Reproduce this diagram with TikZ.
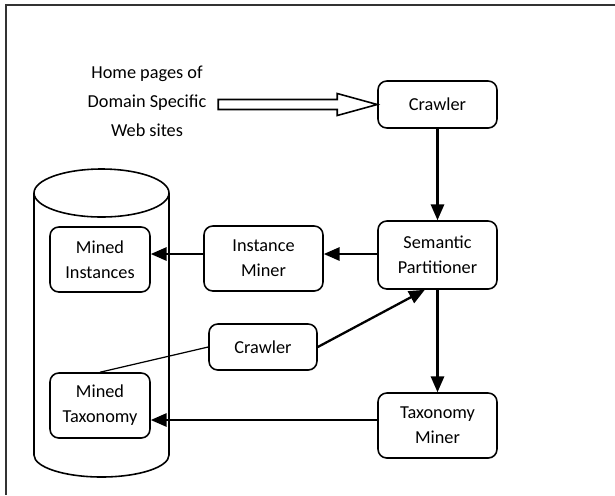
\documentclass[tikz,border=0pt]{standalone}
\usepackage{fontspec}
\setmainfont{Carlito}
\usetikzlibrary{arrows.meta}

\tikzset{
  block/.style={draw, line width=0.9pt, rounded corners=5pt, align=center, inner sep=0pt,
    minimum width=2.38cm, font=\fontsize{10.4}{14.2}\selectfont},
  flow/.style={line width=1.3pt, -{Triangle[length=9pt,width=7.5pt]}},
}

\begin{document}
\begin{tikzpicture}[x=0.02cm, y=-0.02cm]
\useasboundingbox (0,0) rectangle (615,495);
\draw[line width=1pt, black!80] (615,5) -- (6,5) -- (6,495);

% database
\draw[line width=0.9pt] (34,193) -- (34,455) arc (180:0:67.5 and 22) -- (169,193);
\draw[line width=0.9pt] (101.5,193) ellipse (67.5 and 24);

\node [block, minimum height=0.94cm] (crawler) at (437.5,104.5) {Crawler};
\node [block, minimum height=1.36cm] (semantic) at (437.5,255) {Semantic\\Partitioner};
\node [block, minimum height=1.3cm] (instminer) at (263.5,258.5) {Instance\\Miner};
\node [block, minimum height=1.3cm, minimum width=2cm] (minedinst) at (100,259.5) {Mined\\Instances};
\node [block, minimum height=0.92cm, minimum width=2.16cm] (crawlerb) at (263,347) {Crawler};
\node [block, minimum height=1.3cm, minimum width=2cm] (minedtax) at (100,405.5) {Mined\\Taxonomy};
\node [block, minimum height=1.3cm] (taxminer) at (437.5,425.5) {Taxonomy\\Miner};

\node [align=center, font=\fontsize{10.4}{16.4}\selectfont] (homepages) at (147,101)
  {Home pages of\\Domain Specific\\Web sites};
\draw[line width=0.9pt] (crawler.west) -- ++(-40,-11) -- ++(0,6) -- ++(-119,0) -- ++(0,10)
  -- ++(119,0) -- ++(0,6) -- cycle;

\coordinate (rowa) at (0,254);
\coordinate (rowb) at (0,420);
\draw[flow] (crawler) -- (semantic);
\draw[flow] (semantic.west |- rowa) -- (instminer.east |- rowa);
\draw[flow] (instminer.west |- rowa) -- (minedinst.east |- rowa);
\draw[flow] (semantic) -- (taxminer);
\draw[flow] (taxminer.west |- rowb) -- (minedtax.east |- rowb);
\draw[line width=0.7pt] (minedtax.north) -- (crawlerb.west);
\draw[flow] (crawlerb.east) -- (semantic.-110);

\end{tikzpicture}
\end{document}
